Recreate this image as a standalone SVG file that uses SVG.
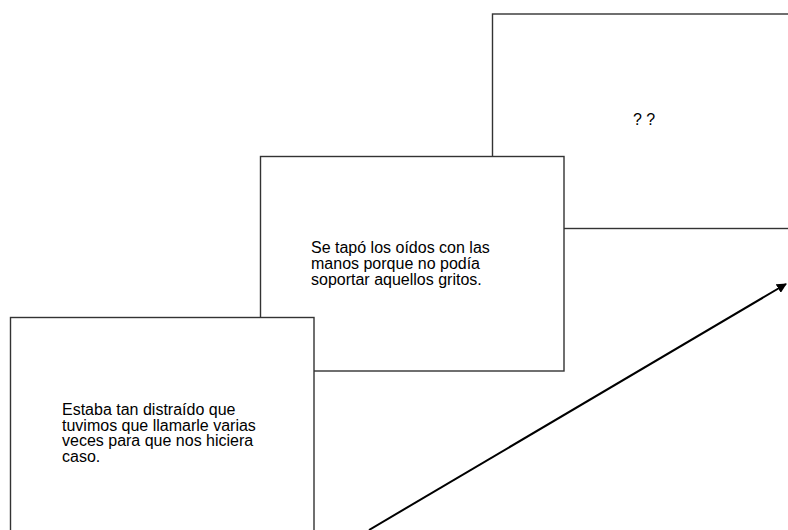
<svg xmlns="http://www.w3.org/2000/svg" width="788" height="530" viewBox="0 0 788 530">
<style>
.box{fill:#fff;stroke:#333;stroke-width:1.4}
.t{font-family:"Liberation Sans",Arial,sans-serif;font-size:16px;fill:#000}
.conn{stroke:#000;stroke-width:2;fill:none}
</style>
<defs>
<marker id="ah" viewBox="0 0 10 10" refX="9" refY="5" markerWidth="5" markerHeight="5" orient="auto" markerUnits="strokeWidth">
<path d="M0,0 L10,5 L0,10 z" fill="#000"/>
</marker>
</defs>
<rect x="0" y="0" width="788" height="530" fill="#fff"/>
<g id="node3">
<rect class="box" x="492.5" y="14" width="300" height="214.5"/>
<text class="t" x="633" y="125">? ?</text>
</g>
<g id="node2">
<rect class="box" x="260.5" y="156.5" width="303.5" height="214.5"/>
<text class="t" x="311" y="252.5">Se tapó los oídos con las</text>
<text class="t" x="311" y="268.5">manos porque no podía</text>
<text class="t" x="311" y="284.5">soportar aquellos gritos.</text>
</g>
<g id="node1">
<rect class="box" x="10.5" y="317.5" width="303.5" height="220"/>
<text class="t" x="62" y="415">Estaba tan distraído que</text>
<text class="t" x="62" y="430.7">tuvimos que llamarle varias</text>
<text class="t" x="62" y="446.4">veces para que nos hiciera</text>
<text class="t" x="62" y="462">caso.</text>
</g>
<g id="connectors">
<line class="conn" x1="369" y1="530" x2="786" y2="284" marker-end="url(#ah)"/>
</g>
</svg>
